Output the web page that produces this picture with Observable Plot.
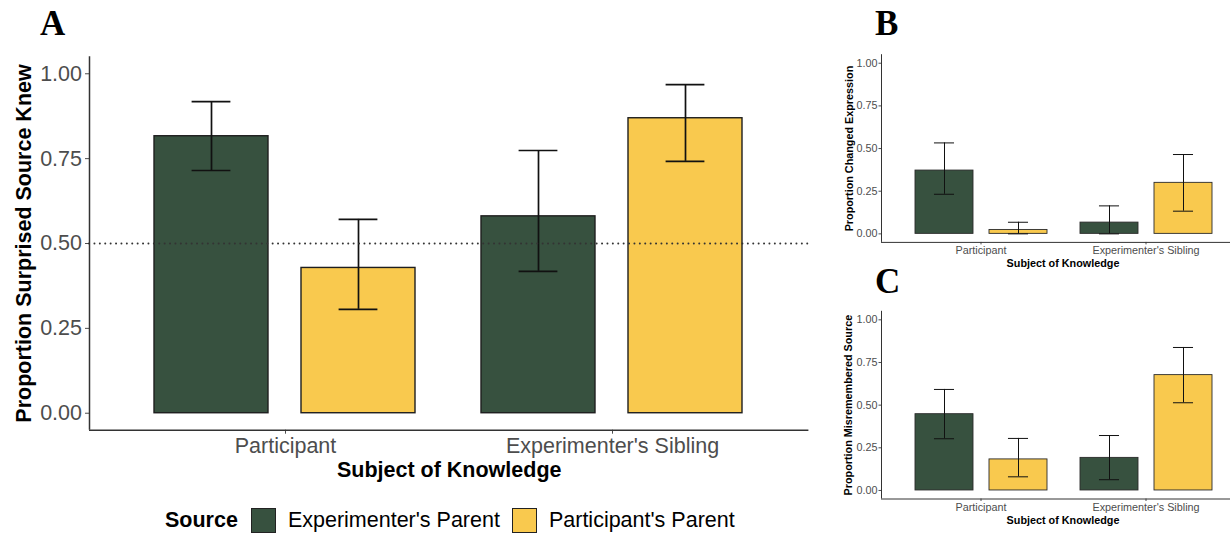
<!DOCTYPE html>
<html>
<head>
<meta charset="utf-8">
<script src="https://cdn.jsdelivr.net/npm/d3@7"></script>
<script src="https://cdn.jsdelivr.net/npm/@observablehq/plot@0.6"></script>
<style>
  html, body { margin: 0; padding: 0; background: #ffffff; }
  #root { position: relative; width: 1230px; height: 533px; overflow: hidden; background: #fff;
          font-family: "Liberation Sans", Arial, Helvetica, sans-serif; }
  #root svg { position: absolute; max-width: none; }
  .letter { position: absolute; font-family: "Liberation Serif", "Times New Roman", serif; font-weight: bold;
            font-size: 35px; line-height: 1; color: #000; }
  .legend { position: absolute; left: 165px; top: 508px; height: 25px; display: flex; align-items: center;
            font-size: 21.5px; color: #000; white-space: nowrap; }
  .legend .title { font-weight: bold; margin-right: 13px; }
  .legend .sw { width: 23px; height: 23px; border: 1.2px solid #222; margin-right: 12px; }
  .legend .lab { margin-right: 12px; }
</style>
</head>
<body>
<div id="root"></div>
<script>
// ---- data ----
const groups = ["Participant", "Experimenter's Sibling"];
const sources = ["Experimenter's Parent", "Participant's Parent"];
const sourceColors = ["#37513F", "#F9C94E"];
const yTicks = [0, 0.25, 0.5, 0.75, 1];
const xTitle = "Subject of Knowledge";
const legendTitle = "Source";

// order in each array: Participant/Exp. Parent, Participant/Part. Parent, Sibling/Exp. Parent, Sibling/Part. Parent
const surprisedMean = [0.816, 0.428, 0.580, 0.869];
const surprisedLow  = [0.715, 0.306, 0.418, 0.742];
const surprisedHigh = [0.918, 0.571, 0.774, 0.968];

const changedMean = [0.371, 0.023, 0.066, 0.299];
const changedLow  = [0.232, 0.000, 0.000, 0.133];
const changedHigh = [0.533, 0.068, 0.164, 0.465];

const misrememberedMean = [0.447, 0.182, 0.191, 0.676];
const misrememberedLow  = [0.303, 0.080, 0.063, 0.514];
const misrememberedHigh = [0.592, 0.305, 0.322, 0.838];

function table(mean, low, high) {
  return groups.flatMap((g, gi) => sources.map((s, si) => {
    const k = gi * sources.length + si;
    return {group: g, source: s, value: mean[k], low: low[k], high: high[k]};
  }));
}

const root = document.getElementById("root");

function panel(cfg) {
  const unit = (cfg.width - cfg.mL - cfg.mR) / 2.2;
  const bw = 0.35 * unit;
  const capInset = (bw - 0.12 * unit) / 2;
  const frame = {
    width: cfg.width, height: cfg.height,
    marginLeft: cfg.mL, marginRight: cfg.mR, marginTop: cfg.mT, marginBottom: cfg.mB
  };
  const style = {
    fontFamily: '"Liberation Sans", Arial, Helvetica, sans-serif',
    fontSize: cfg.fontSize + "px",
    background: "transparent",
    overflow: "visible",
    color: "#4d4d4d",
    maxWidth: "none"
  };
  const bars = Plot.plot({
    ...frame,
    style,
    fx: {domain: groups, paddingInner: 0.1, paddingOuter: 0.15, axis: "bottom", label: null,
         tickSize: cfg.tickSize, tickPadding: cfg.xPad},
    x: {domain: sources, paddingInner: 2 / 9, paddingOuter: 1 / 9, axis: null},
    y: {domain: [-0.05, 1.05], axis: null},
    color: {domain: sources, range: sourceColors},
    marks: [
      Plot.barY(cfg.data, {fx: "group", x: "source", y1: 0, y2: "value", fill: "source",
        stroke: cfg.barStroke, strokeWidth: cfg.barStrokeWidth}),
      Plot.ruleX(cfg.data, {fx: "group", x: "source", y1: "low", y2: "high",
        stroke: "#111", strokeWidth: cfg.errWidth}),
      Plot.tickY(cfg.data, {fx: "group", x: "source", y: "high", insetLeft: capInset, insetRight: capInset,
        stroke: "#111", strokeWidth: cfg.errWidth}),
      Plot.tickY(cfg.data, {fx: "group", x: "source", y: "low", insetLeft: capInset, insetRight: capInset,
        stroke: "#111", strokeWidth: cfg.errWidth})
    ]
  });
  const axes = Plot.plot({
    ...frame,
    style,
    x: {domain: [0.4, 2.6], axis: null},
    y: {domain: [-0.05, 1.05], ticks: yTicks, tickFormat: ".2f", tickSize: cfg.tickSize,
        tickPadding: cfg.yPad, label: null},
    marks: [
      cfg.hline ? Plot.ruleY([0.5], {stroke: "#333", strokeWidth: 1.9, strokeDasharray: "0.1 5.3",
        strokeLinecap: "round"}) : null,
      Plot.ruleX([0.4], {stroke: "#333", strokeWidth: cfg.axisWidth}),
      Plot.ruleY([-0.05], {stroke: "#333", strokeWidth: cfg.axisWidth}),
      Plot.text([cfg.yTitle], {text: d => d, frameAnchor: "left", rotate: -90, dx: cfg.yTitleDx,
        textAnchor: "middle", lineAnchor: "middle", fontWeight: "bold", fill: "#000", fontSize: cfg.fontSize}),
      Plot.text([xTitle], {text: d => d, frameAnchor: "bottom", dy: cfg.xTitleDy,
        textAnchor: "middle", lineAnchor: "middle", fontWeight: "bold", fill: "#000", fontSize: cfg.fontSize})
    ]
  });
  for (const svg of [bars, axes]) {
    svg.style.position = "absolute";
    svg.style.left = cfg.left + "px";
    svg.style.top = cfg.top + "px";
    root.appendChild(svg);
  }
}

// Panel A
panel({
  data: table(surprisedMean, surprisedLow, surprisedHigh),
  left: 0, top: 0, width: 820, height: 490,
  mL: 89, mR: 11.6, mT: 56.3, mB: 60.3,
  fontSize: 21.5, tickSize: 4, xPad: 4, yPad: 3.5,
  yTitle: "Proportion Surprised Source Knew", yTitleDx: -65.5, xTitleDy: 40,
  barStroke: "#1e1e1e", barStrokeWidth: 1.4, errWidth: 1.7, axisWidth: 1.5, hline: true
});

// Panel B
panel({
  data: table(changedMean, changedLow, changedHigh),
  left: 820, top: 0, width: 424, height: 270,
  mL: 61, mR: 0, mT: 54.2, mB: 28.1,
  fontSize: 10.8, tickSize: 2.5, xPad: 1.6, yPad: 1.5,
  yTitle: "Proportion Changed Expression", yTitleDx: -32.3, xTitleDy: 21.3,
  barStroke: "#2a2a2a", barStrokeWidth: 0.9, errWidth: 1.0, axisWidth: 1.0, hline: false
});

// Panel C
panel({
  data: table(misrememberedMean, misrememberedLow, misrememberedHigh),
  left: 820, top: 260, width: 424, height: 273,
  mL: 61, mR: 0, mT: 50.8, mB: 34.5,
  fontSize: 10.8, tickSize: 2.5, xPad: 1.6, yPad: 1.5,
  yTitle: "Proportion Misremembered Source", yTitleDx: -32.5, xTitleDy: 21.3,
  barStroke: "#2a2a2a", barStrokeWidth: 0.9, errWidth: 1.0, axisWidth: 1.0, hline: false
});

// Panel letters
[["A", 40, 6], ["B", 875, 6], ["C", 875, 264]].forEach(([t, x, y]) => {
  const d = document.createElement("div");
  d.className = "letter";
  d.textContent = t;
  d.style.left = x + "px";
  d.style.top = y + "px";
  root.appendChild(d);
});

// Legend
const legend = document.createElement("div");
legend.className = "legend";
const lt = document.createElement("span");
lt.className = "title";
lt.textContent = legendTitle;
legend.appendChild(lt);
sources.forEach((s, i) => {
  const sw = document.createElement("span");
  sw.className = "sw";
  sw.style.background = sourceColors[i];
  legend.appendChild(sw);
  const lab = document.createElement("span");
  lab.className = "lab";
  lab.textContent = s;
  legend.appendChild(lab);
});
root.appendChild(legend);
</script>
</body>
</html>
